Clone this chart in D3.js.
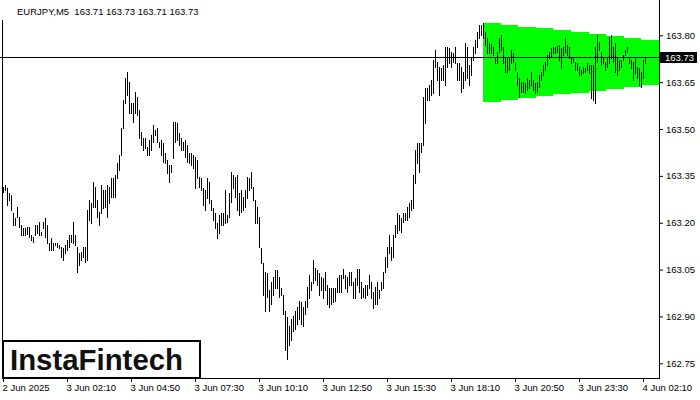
<!DOCTYPE html>
<html><head><meta charset="utf-8">
<script src="https://cdn.jsdelivr.net/npm/d3@7/dist/d3.min.js"></script>
<style>
html,body{margin:0;padding:0;background:#fff;}
svg{display:block;}
text{font-family:"Liberation Sans",Arial,sans-serif;}
</style></head>
<body>
<svg id="chart" width="700" height="400"></svg>
<script>
// ---- data (EURJPY M5 bars, first bar 2 Jun 2025 23:30) ----
const symbol = "EURJPY,M5";
const lastOHLC = [163.71, 163.73, 163.71, 163.73];
const currentPrice = 163.73;
const highs = [
163.314,163.320,163.310,163.294,163.288,163.230,163.214,163.250,163.218,163.192,
163.182,163.182,163.185,163.186,163.160,163.154,163.192,163.192,163.202,163.170,
163.202,163.214,163.192,163.134,163.150,163.134,163.134,163.134,163.128,163.122,
163.118,163.128,163.144,163.160,163.160,163.202,163.160,163.122,163.102,163.106,
163.122,163.122,163.240,163.272,163.262,163.330,163.314,163.272,163.234,163.320,
163.304,163.304,163.320,163.314,163.342,163.342,163.352,163.391,163.416,163.503,
163.592,163.663,163.682,163.650,163.582,163.582,163.618,163.602,163.560,163.490,
163.471,163.471,163.442,163.464,163.480,163.512,163.496,163.503,163.458,163.464,
163.455,163.423,163.400,163.384,163.384,163.522,163.522,163.518,163.487,163.471,
163.458,163.464,163.448,163.423,163.423,163.416,163.410,163.400,163.346,163.342,
163.310,163.304,163.342,163.330,163.272,163.246,163.230,163.198,163.224,163.230,
163.230,163.304,163.224,163.294,163.362,163.352,163.346,163.352,163.294,163.304,
163.282,163.304,163.346,163.342,163.362,163.314,163.272,163.250,163.218,163.118,
163.070,163.042,163.038,162.984,163.010,163.026,163.048,163.048,163.026,162.990,
162.968,162.919,162.897,162.871,162.893,162.903,162.919,162.929,162.951,162.945,
162.929,162.951,162.994,163.032,163.010,163.080,163.054,163.048,163.038,163.026,
163.022,163.042,163.000,162.990,162.990,162.990,162.990,163.022,163.032,163.032,
163.051,163.032,163.026,163.042,163.042,163.010,163.022,163.051,163.051,163.010,
162.990,163.000,163.000,163.032,163.010,162.977,162.994,163.010,162.984,163.010,
163.042,163.090,163.122,163.160,163.122,163.160,163.192,163.230,163.224,163.214,
163.230,163.230,163.250,163.262,163.272,163.352,163.432,163.455,163.455,163.455,
163.602,163.631,163.631,163.641,163.657,163.721,163.753,163.714,163.698,163.695,
163.705,163.762,163.762,163.759,163.746,163.743,163.762,163.711,163.711,163.698,
163.682,163.775,163.762,163.705,163.727,163.762,163.785,163.810,163.833,163.833,
163.839,163.810,163.791,163.775,163.772,163.762,163.730,163.746,163.791,163.801,
163.762,163.730,163.730,163.727,163.753,163.743,163.711,163.682,163.663,163.650,
163.650,163.647,163.663,163.657,163.682,163.657,163.647,163.650,163.673,163.682,
163.705,163.714,163.737,163.746,163.759,163.762,163.762,163.765,163.769,163.759,
163.762,163.791,163.769,163.762,163.730,163.730,163.714,163.711,163.698,163.689,
163.698,163.695,163.711,163.705,163.705,163.705,163.762,163.801,163.778,163.746,
163.730,163.714,163.727,163.794,163.801,163.762,163.775,163.727,163.721,163.721,
163.737,163.753,163.762,163.727,163.721,163.714,163.730,163.698,163.695,163.682,
163.721,163.730];
const lows = [
163.298,163.304,163.256,163.272,163.240,163.192,163.192,163.218,163.186,163.160,
163.160,163.160,163.165,163.154,163.144,163.138,163.160,163.166,163.160,163.160,
163.182,163.154,163.134,163.112,163.112,163.112,163.128,163.122,163.118,163.090,
163.080,163.102,163.112,163.122,163.138,163.134,163.128,163.042,163.064,163.080,
163.090,163.074,163.080,163.208,163.198,163.250,163.250,163.218,163.192,163.230,
163.246,163.250,163.218,163.262,163.282,163.282,163.282,163.342,163.368,163.416,
163.503,163.582,163.609,163.550,163.550,163.522,163.550,163.544,163.471,163.448,
163.432,163.439,163.416,163.416,163.432,163.458,163.480,163.458,163.442,163.416,
163.394,163.391,163.358,163.330,163.362,163.407,163.458,163.464,163.448,163.432,
163.432,163.410,163.394,163.391,163.384,163.375,163.310,163.342,163.314,163.304,
163.256,163.240,163.278,163.262,163.240,163.208,163.182,163.150,163.166,163.192,
163.192,163.198,163.202,163.218,163.266,163.310,163.282,163.240,163.224,163.234,
163.240,163.250,163.278,163.304,163.310,163.272,163.198,163.198,163.122,163.070,
162.968,162.919,162.961,162.919,162.941,162.968,162.990,162.990,162.961,162.968,
162.909,162.791,162.765,162.807,162.823,162.855,162.861,162.877,162.893,162.877,
162.871,162.909,162.929,162.958,162.984,163.006,163.016,163.000,162.968,162.984,
162.958,162.984,162.941,162.929,162.941,162.945,162.951,162.977,162.977,162.977,
163.022,162.990,162.977,163.000,163.000,162.958,162.958,163.000,162.977,162.958,
162.961,162.958,162.968,162.990,162.958,162.926,162.941,162.941,162.958,162.984,
162.990,163.042,163.058,163.102,163.080,163.090,163.154,163.166,163.176,163.170,
163.202,163.208,163.208,163.218,163.240,163.246,163.326,163.391,163.362,163.426,
163.448,163.518,163.592,163.592,163.609,163.615,163.698,163.657,163.609,163.657,
163.657,163.641,163.698,163.711,163.698,163.714,163.711,163.657,163.657,163.618,
163.631,163.657,163.663,163.641,163.673,163.721,163.743,163.762,163.791,163.801,
163.791,163.769,163.743,163.743,163.743,163.737,163.711,163.711,163.746,163.753,
163.711,163.682,163.682,163.689,163.711,163.714,163.689,163.641,163.602,163.618,
163.618,163.615,163.625,163.631,163.641,163.625,163.615,163.618,163.634,163.657,
163.673,163.689,163.705,163.727,163.730,163.743,163.743,163.745,163.721,163.695,
163.737,163.746,163.737,163.727,163.711,163.714,163.689,163.689,163.673,163.673,
163.679,163.682,163.689,163.679,163.599,163.592,163.582,163.714,163.753,163.705,
163.711,163.689,163.698,163.711,163.727,163.714,163.682,163.673,163.689,163.698,
163.721,163.737,163.746,163.711,163.695,163.657,163.679,163.663,163.641,163.634,
163.663,163.710];
const slotCount = 328;               // bar slots visible across the chart width
const xTickIndex = [0,32,64,96,128,160,192,224,256,288,320];
const xTickLabels = ["2 Jun 2025","3 Jun 02:10","3 Jun 04:50","3 Jun 07:30","3 Jun 10:10",
  "3 Jun 12:50","3 Jun 15:30","3 Jun 18:10","3 Jun 20:50","3 Jun 23:30","4 Jun 02:10"];
const yTicks = [162.75,162.90,163.05,163.20,163.35,163.50,163.65,163.80];
// symmetric triangle pattern: [bar index, upper price, lower price]
const patternStart = [240, 163.840, 163.587];
const patternEnd   = [328, 163.780, 163.646];
const logoText = "InstaFintech";

// ---- drawing ----
const svg = d3.select("#chart");
const W = 700, H = 400;
const pL = 3, pR = 659, pB = 378;
const x = d3.scaleLinear().domain([0, slotCount]).range([pL, pR]);
const y = d3.scaleLinear().domain([162.75, 163.80]).range([363.3, 35.3]);

svg.append("rect").attr("width", W).attr("height", H).attr("fill", "#fff");

// pattern (stepped like the terminal draws it)
const steps = 10;
const g0 = svg.append("g");
for (let s = 0; s < steps; s++) {
  const t0 = s / steps, t1 = (s + 1) / steps;
  const i0 = patternStart[0] + (patternEnd[0] - patternStart[0]) * t0;
  const i1 = patternStart[0] + (patternEnd[0] - patternStart[0]) * t1;
  const up = patternStart[1] + (patternEnd[1] - patternStart[1]) * t0;
  const lo = patternStart[2] + (patternEnd[2] - patternStart[2]) * t0;
  const x0 = Math.round(x(i0)), x1 = Math.round(x(i1));
  const y0 = Math.round(y(up)), y1 = Math.round(y(lo));
  g0.append("rect").attr("x", x0).attr("y", y0).attr("width", x1 - x0).attr("height", y1 - y0)
    .attr("fill", "#00ff00");
}

// current price line
const yc = Math.round(y(currentPrice)) + 0.5;
svg.append("line").attr("x1", 0).attr("x2", pR).attr("y1", yc).attr("y2", yc)
  .attr("stroke", "#000").attr("stroke-width", 1);

// bars
svg.append("g").selectAll("rect").data(highs).join("rect")
  .attr("x", (d, i) => Math.round(x(i)))
  .attr("y", d => Math.round(y(d)))
  .attr("width", 1)
  .attr("height", (d, i) => Math.max(1, Math.round(y(lows[i])) - Math.round(y(d)) + 1))
  .attr("fill", "#000");

// frame
svg.append("line").attr("x1", 2.5).attr("x2", 2.5).attr("y1", 20).attr("y2", pB + 0.5).attr("stroke", "#000");
svg.append("line").attr("x1", pR + 0.5).attr("x2", pR + 0.5).attr("y1", 0).attr("y2", pB + 0.5).attr("stroke", "#000");
svg.append("line").attr("x1", 2).attr("x2", pR + 1).attr("y1", pB + 0.5).attr("y2", pB + 0.5).attr("stroke", "#000");

// y axis
const yAxis = svg.append("g").attr("transform", `translate(${pR},0)`)
  .call(d3.axisRight(y).tickValues(yTicks).tickSize(4).tickPadding(3).tickFormat(d3.format(".2f")));
yAxis.select(".domain").remove();
yAxis.selectAll("text").attr("font-size", 9.5).attr("font-family", "Liberation Sans, Arial, sans-serif").attr("fill", "#000");
yAxis.selectAll("line").attr("stroke", "#000");

// x axis
const xAxis = svg.append("g").attr("transform", `translate(0,${pB})`)
  .call(d3.axisBottom(x).tickValues(xTickIndex).tickSize(4).tickPadding(2)
    .tickFormat((d, i) => xTickLabels[i]));
xAxis.select(".domain").remove();
xAxis.selectAll("text").attr("font-size", 9.5).attr("text-anchor", "start").attr("dx", -1)
  .attr("font-family", "Liberation Sans, Arial, sans-serif").attr("fill", "#000");
xAxis.selectAll("line").attr("stroke", "#000");

// current price tag
svg.append("rect").attr("x", pR).attr("y", yc - 5.5).attr("width", 38).attr("height", 11).attr("fill", "#000");
svg.append("text").attr("x", pR + 6).attr("y", yc + 3.5).attr("font-size", 9.5)
  .attr("fill", "#fff").text(d3.format(".2f")(currentPrice));

// title
svg.append("text").attr("x", 17).attr("y", 15).attr("font-size", 9.5).attr("fill", "#000")
  .attr("xml:space", "preserve")
  .text(symbol + "  " + lastOHLC.map(d3.format(".2f")).join(" "));

// logo
svg.append("rect").attr("x", 3).attr("y", 341).attr("width", 197).attr("height", 37)
  .attr("fill", "#fff").attr("stroke", "#000").attr("stroke-width", 2);
svg.append("text").attr("x", 10).attr("y", 370).attr("font-size", 29).attr("font-weight", 600)
  .attr("font-family", "'Open Sans', Roboto, sans-serif").attr("fill", "#111")
  .attr("textLength", 173).attr("lengthAdjust", "spacingAndGlyphs").text(logoText);
</script>
</body></html>
